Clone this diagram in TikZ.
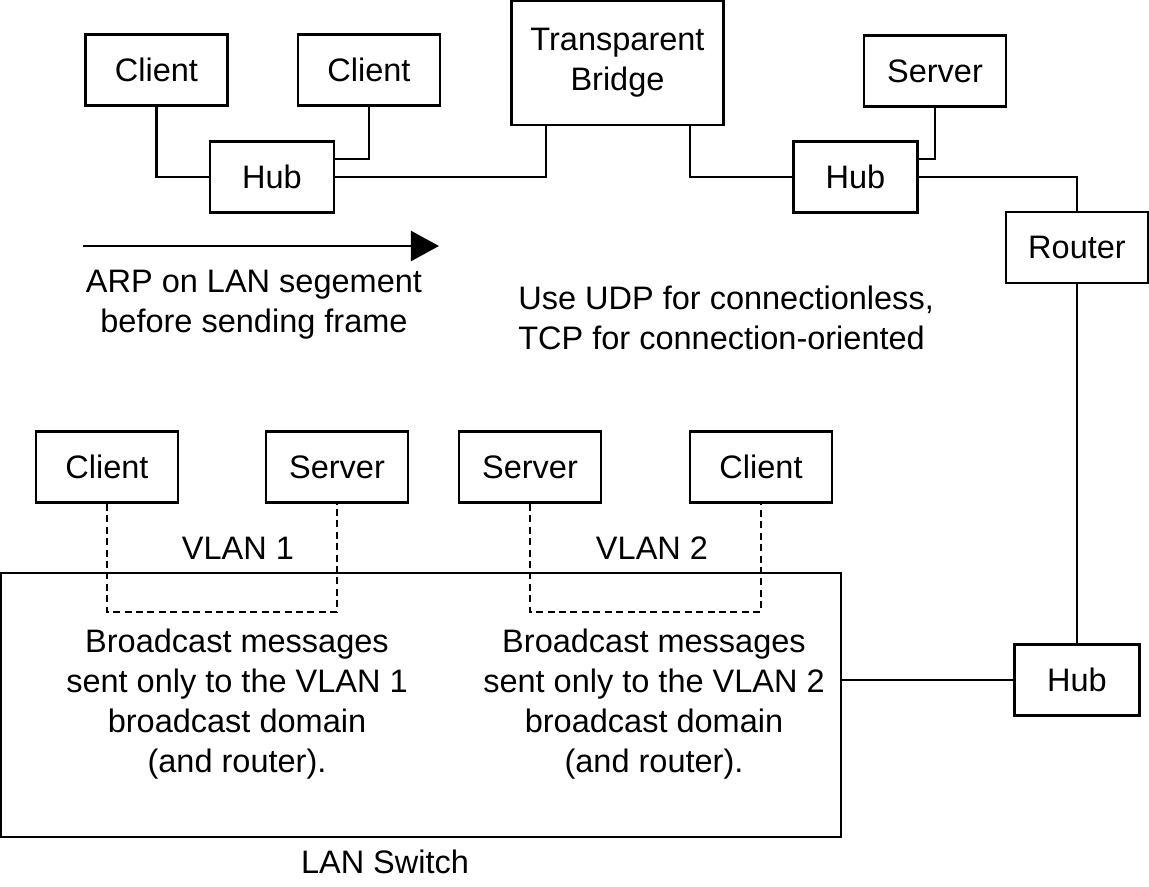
\documentclass[tikz,border=0pt]{standalone}
\usepackage{fontspec}
\setmainfont{Liberation Sans}
\usetikzlibrary{arrows.meta,calc}
\begin{document}
\begin{tikzpicture}[x=0.02cm,y=-0.02cm,
  every node/.style={font=\fontsize{18.5}{22.7}\selectfont},
  box/.style={draw,line width=1.5pt,rectangle,inner sep=0pt,
    minimum width=2.84cm,minimum height=1.42cm,align=center},
  hubbox/.style={box,minimum width=2.48cm,minimum height=1.42cm},
  link/.style={line width=1.2pt},
  vlink/.style={line width=1.1pt,dash pattern=on 4pt off 2.5pt},
  txt/.style={inner sep=0pt,align=center}]
\useasboundingbox (0,0) rectangle (1149,886);
% top part
\node[box] (c1) at (156.5,70) {Client};
\node[box] (c2) at (369,70) {Client};
\node[hubbox] (hub1) at (272,177) {Hub};
\node[box,minimum width=4.24cm,minimum height=2.48cm] (bridge) at (617.5,63) {Transparent\\Bridge};
\node[box] (srv) at (935,71) {Server};
\node[hubbox] (hub2) at (855.5,177) {Hub};
\node[box] (router) at (1077,247.5) {Router};
\node[hubbox,minimum width=2.5cm] (hub3) at (1077,680) {Hub};
% connectors top
\draw[link] (c1.south) |- (hub1.west);
\draw[link] (c2.south) |- ($(hub1.north east)!0.25!(hub1.south east)$);
\draw[link] (hub1.east) -| ($(bridge.south west)!0.167!(bridge.south east)$);
\draw[link] ($(bridge.south west)!0.837!(bridge.south east)$) |- (hub2.west);
\draw[link] (srv.south) |- ($(hub2.north east)!0.25!(hub2.south east)$);
\draw[link] (hub2.east) -| (router.north);
\draw[link] (router.south) -- (hub3.north);
% arrow
\coordinate (arrS) at (83,246);
\coordinate (arrE) at (439,246);
\draw[line width=1.7pt,-{Triangle[length=16pt,width=17pt]}] (arrS) -- (arrE);
\node[txt] (arp) at (254,305) {ARP on LAN segement\\before sending frame};
\node[txt,anchor=west,align=left] (udp) at (518,318) {Use UDP for connectionless,\\TCP for connection-oriented};
% LAN switch
\node[draw,line width=1.5pt,rectangle,inner sep=0pt,minimum width=16.8cm,minimum height=5.28cm] (switch) at (421,705) {};
\draw[link] (hub3.west) -- (hub3.west -| switch.east);
\node[box] (bc1) at (107,467) {Client};
\node[box] (bs1) at (337,467) {Server};
\node[box] (bs2) at (530,467) {Server};
\node[box] (bc2) at (761,467) {Client};
\draw[vlink] (bc1.south) |- ($(bs1.south)+(0,108)$) -- (bs1.south);
\draw[vlink] (bs2.south) |- ($(bc2.south)+(0,108)$) -- (bc2.south);
\node[txt] (vl1) at (238,548) {VLAN 1};
\node[txt] (vl2) at (652,548) {VLAN 2};
\node[txt] (b1) at (237,704) {Broadcast messages\\sent only to the VLAN 1\\broadcast domain\\(and router).};
\node[txt] (b2) at (654,704) {Broadcast messages\\sent only to the VLAN 2\\broadcast domain\\(and router).};
\node[txt] (lan) at (385,862) {LAN Switch};
\end{tikzpicture}
\end{document}
